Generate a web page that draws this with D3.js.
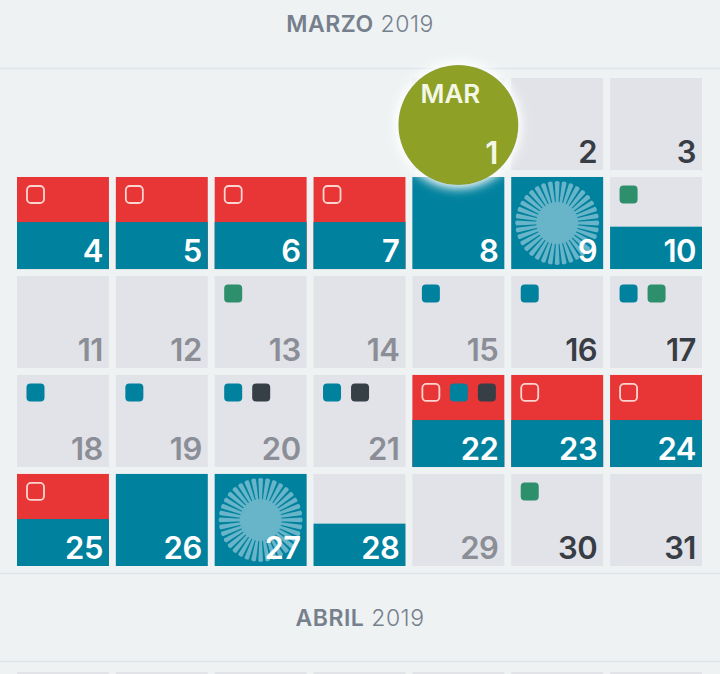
<!DOCTYPE html>
<html>
<head>
<meta charset="utf-8">
<script src="https://cdn.jsdelivr.net/npm/d3@7"></script>
<style>
  html, body { margin: 0; padding: 0; background: #eef2f3; overflow: hidden; }
  svg { display: block; font-family: Inter, Lato, sans-serif; }
</style>
</head>
<body>
<script>
var width = 720;
var height = 674;

// march 2019, values
var days = d3.range(1, 32);
var redDays = [4, 5, 6, 7, 22, 23, 24, 25];
var halfDays = [10, 28];
var fullDays = [8, 9, 26, 27];
var burstDays = [9, 27];
var mutedDays = [11, 12, 13, 14, 15, 18, 19, 20, 21, 29];
var outlineMarks = [4, 5, 6, 7, 22, 23, 24, 25];
var tealMarks = [15, 16, 17, 18, 19, 20, 21, 22];
var greenMarks = [10, 13, 17, 30];
var darkMarks = [20, 21, 22];
var headers = [["MARZO", "2019"], ["ABRIL", "2019"]];
var todayDay = 1;
var todayLabel = "MAR";
var weekColumns = d3.range(7);
var weekRows = d3.range(5);

var colors = {
    cell: "#e1e3e8",
    teal: "#00819d",
    red: "#e83536",
    green: "#2e8f6c",
    dark: "#363e46",
    burst: "#68b4c9",
    olive: "#8ea126",
    muted: "#8b8e96",
    ink: "#383d45",
    header: "#767f8c",
    rule: "#dde5e9"
};

var svg = d3.select("body").append("svg")
    .attr("width", width)
    .attr("height", height);

var x = d3.scaleBand().domain(weekColumns).range([17, 702]).paddingInner(0.07);
var y = d3.scaleBand().domain(weekRows).range([78, 566]).paddingInner(0.07);

// share of the cell height taken by the teal block
var fillScale = d3.scaleLinear().domain([0, 1]).range([0, y.bandwidth()]);

function col(d) { return (d + 3) % 7; }
function row(d) { return Math.floor((d + 3) / 7); }

function tealShare(d) {
    if (fullDays.includes(d)) return 1;
    if (redDays.includes(d)) return 0.51;
    if (halfDays.includes(d)) return 0.46;
    return 0;
}

// rules and month titles
svg.selectAll("line.rule").data([68, 573, 661]).enter().append("line")
    .attr("class", "rule")
    .attr("x1", 0).attr("x2", width)
    .attr("y1", function(d) { return d + 0.5; })
    .attr("y2", function(d) { return d + 0.5; })
    .attr("stroke", colors.rule)
    .attr("stroke-width", 1.5);

var titles = svg.selectAll("text.title").data(headers).enter().append("text")
    .attr("class", "title")
    .attr("x", width / 2)
    .attr("y", function(d, i) { return i == 0 ? 32 : 626; })
    .attr("text-anchor", "middle")
    .attr("font-size", 23)
    .attr("letter-spacing", 0.5)
    .attr("fill", colors.header);
titles.append("tspan").attr("font-weight", 600).text(function(d) { return d[0]; });
titles.append("tspan").attr("dx", 7).attr("font-weight", 300).text(function(d) { return d[1]; });

// top row of april, cut off by the window
svg.selectAll("rect.next").data(weekColumns).enter().append("rect")
    .attr("class", "next")
    .attr("x", function(d) { return x(d); })
    .attr("y", 672)
    .attr("width", x.bandwidth())
    .attr("height", y.bandwidth())
    .attr("fill", colors.cell);

var cells = svg.selectAll("g.day").data(days).enter().append("g")
    .attr("class", "day")
    .attr("transform", function(d) { return "translate(" + x(col(d)) + "," + y(row(d)) + ")"; });

cells.append("rect")
    .attr("width", x.bandwidth())
    .attr("height", y.bandwidth())
    .attr("fill", function(d) { return redDays.includes(d) ? colors.red : colors.cell; });

cells.append("rect")
    .attr("y", function(d) { return y.bandwidth() - fillScale(tealShare(d)); })
    .attr("width", x.bandwidth())
    .attr("height", function(d) { return fillScale(tealShare(d)); })
    .attr("fill", colors.teal);

// sunburst, tapered rays around a disc
var rays = d3.range(36);
var bursts = cells.filter(function(d) { return burstDays.includes(d); }).append("g")
    .attr("transform", "translate(" + x.bandwidth() / 2 + "," + y.bandwidth() / 2 + ")");
bursts.append("circle").attr("r", 21).attr("fill", colors.burst);
bursts.selectAll("path").data(rays).enter().append("path")
    .attr("d", "M18,-1.2L41,-2.4Q43,0 41,2.4L18,1.2Z")
    .attr("fill", colors.burst)
    .attr("transform", function(d) { return "rotate(" + (d * 360 / rays.length) + ")"; });

// little square markers, in slots from the left
function marksFor(d) {
    var out = [];
    if (outlineMarks.includes(d)) out.push("outline");
    if (tealMarks.includes(d)) out.push("teal");
    if (greenMarks.includes(d)) out.push("green");
    if (darkMarks.includes(d)) out.push("dark");
    return out;
}

cells.selectAll("rect.mark").data(function(d) { return marksFor(d); }).enter().append("rect")
    .attr("class", "mark")
    .attr("x", function(d, i) { return (d == "outline" ? 10 : 9.5) + i * 28; })
    .attr("y", function(d) { return d == "outline" ? 9 : 8.5; })
    .attr("width", function(d) { return d == "outline" ? 17 : 18; })
    .attr("height", function(d) { return d == "outline" ? 17 : 18; })
    .attr("rx", 4)
    .attr("fill", function(d) { return d == "outline" ? "none" : colors[d]; })
    .attr("stroke", function(d) { return d == "outline" ? "#fbd5d0" : "none"; })
    .attr("stroke-width", 1.8);

// day numbers
cells.filter(function(d) { return d != todayDay; }).append("text")
    .attr("x", x.bandwidth() - 6)
    .attr("y", y.bandwidth() - 7)
    .attr("text-anchor", "end")
    .attr("font-size", 31)
    .attr("font-weight", 600)
    .attr("letter-spacing", -0.5)
    .attr("fill", function(d) {
        if (tealShare(d) > 0) return "#ffffff";
        return mutedDays.includes(d) ? colors.muted : colors.ink;
    })
    .text(function(d) { return d; });

// today badge, white halo is the same shadow applied twice
var glow = svg.append("defs").append("filter").attr("id", "glow")
    .attr("x", "-30%").attr("y", "-30%").attr("width", "160%").attr("height", "160%");
glow.append("feDropShadow")
    .attr("dx", 0).attr("dy", 0)
    .attr("stdDeviation", 6)
    .attr("flood-color", "#ffffff")
    .attr("flood-opacity", 1);
glow.append("feDropShadow")
    .attr("dx", 0).attr("dy", 0)
    .attr("stdDeviation", 5)
    .attr("flood-color", "#ffffff")
    .attr("flood-opacity", 0.8);

var badge = svg.append("g")
    .attr("transform", "translate(" + (x(col(todayDay)) + x.bandwidth() / 2) + "," + (y(row(todayDay)) + y.bandwidth() / 2 + 1) + ")");
badge.append("circle").attr("r", 60).attr("fill", colors.olive).attr("filter", "url(#glow)");
badge.append("text")
    .attr("x", -8).attr("y", -22)
    .attr("text-anchor", "middle")
    .attr("font-size", 26)
    .attr("font-weight", 600)
    .attr("fill", "#f4f7e6")
    .text(todayLabel);
badge.append("text")
    .attr("x", 40).attr("y", 39)
    .attr("text-anchor", "end")
    .attr("font-size", 31)
    .attr("font-weight", 600)
    .attr("fill", "#f4f7e6")
    .text(todayDay);
</script>
</body>
</html>
